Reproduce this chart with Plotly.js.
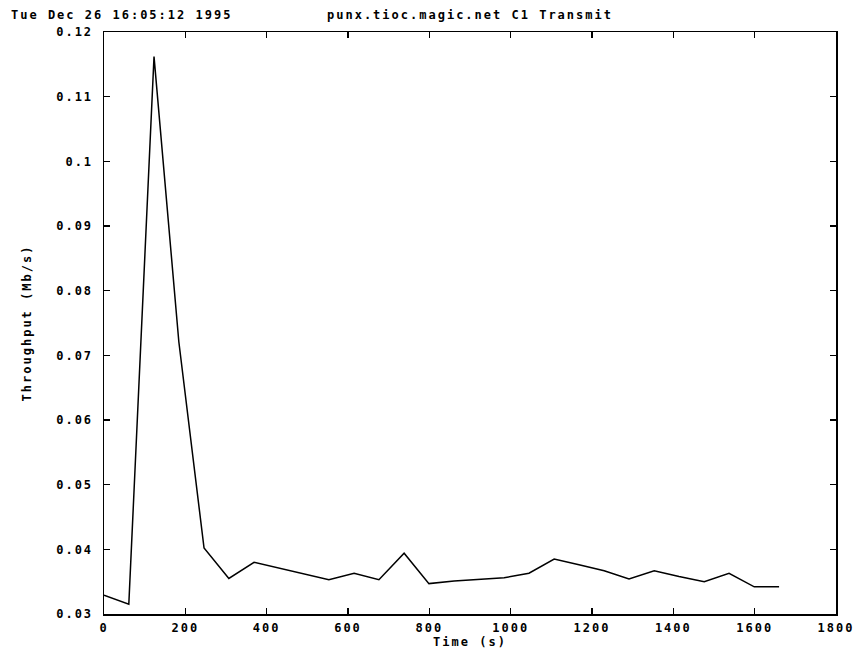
<!DOCTYPE html>
<html>
<head>
<meta charset="utf-8">
<script src="https://cdn.plot.ly/plotly-3.0.1.min.js"></script>
<style>
html,body{margin:0;padding:0;background:#fff;}
#chart{width:857px;height:649px;}
#chart svg text{letter-spacing:2px;}
</style>
</head>
<body>
<div id="chart"></div>
<script>
const timeSec = [0, 61, 123, 184, 246, 307, 369, 430, 492, 553, 615, 676, 738, 799, 861, 922, 984, 1045, 1107, 1168, 1230, 1291, 1353, 1414, 1476, 1537, 1599, 1660];
const throughput = [0.0329, 0.0315, 0.1162, 0.0721, 0.0402, 0.0355, 0.0380, 0.0371, 0.0362, 0.0353, 0.0363, 0.0353, 0.0394, 0.0347, 0.0351, 0.0353, 0.0356, 0.0363, 0.0385, 0.0376, 0.0367, 0.0354, 0.0367, 0.0358, 0.0350, 0.0363, 0.0342, 0.0342];
const xTicks = [0, 200, 400, 600, 800, 1000, 1200, 1400, 1600, 1800];
const yTicks = [0.03, 0.04, 0.05, 0.06, 0.07, 0.08, 0.09, 0.1, 0.11, 0.12];
const yTickText = ['0.03', '0.04', '0.05', '0.06', '0.07', '0.08', '0.09', '0.1', '0.11', '0.12'];
const stampText = 'Tue Dec 26 16:05:12 1995';
const titleText = 'punx.tioc.magic.net C1 Transmit';

const fnt = {family: 'DejaVu Sans Mono, monospace', size: 12, color: '#000', weight: 'bold'};

const trace = {
  x: timeSec, y: throughput, type: 'scatter', mode: 'lines',
  line: {color: '#000', width: 1.5}, hoverinfo: 'skip'
};

const axisCommon = {
  showgrid: false, zeroline: false, showline: true, mirror: 'ticks',
  linecolor: '#000', linewidth: 1.5, ticks: 'inside', ticklen: 6,
  tickcolor: '#000', tickwidth: 1.2, tickfont: fnt
};

const layout = {
  width: 857, height: 649,
  margin: {l: 104, r: 21, t: 32, b: 35},
  paper_bgcolor: '#fff', plot_bgcolor: '#fff',
  showlegend: false,
  font: fnt,
  xaxis: Object.assign({}, axisCommon, {
    range: [0, 1800], tickvals: xTicks, ticktext: xTicks.map(String),
    ticklabelstandoff: 2,
    title: {text: 'Time (s)', font: fnt, standoff: 2}
  }),
  yaxis: Object.assign({}, axisCommon, {
    range: [0.03, 0.12], tickvals: yTicks, ticktext: yTickText,
    ticklabelstandoff: 7,
    title: {text: 'Throughput (Mb/s)', font: fnt, standoff: 30}
  }),
  annotations: [
    {text: stampText, xref: 'paper', yref: 'paper', x: 0.0239, y: 1.0, xanchor: 'center', yanchor: 'bottom', yshift: 8, showarrow: false, font: fnt},
    {text: titleText, xref: 'paper', yref: 'paper', x: 0.5, y: 1.0, xanchor: 'center', yanchor: 'bottom', yshift: 8, showarrow: false, font: fnt}
  ]
};

Plotly.newPlot('chart', [trace], layout, {staticPlot: true, displayModeBar: false});
</script>
</body>
</html>
